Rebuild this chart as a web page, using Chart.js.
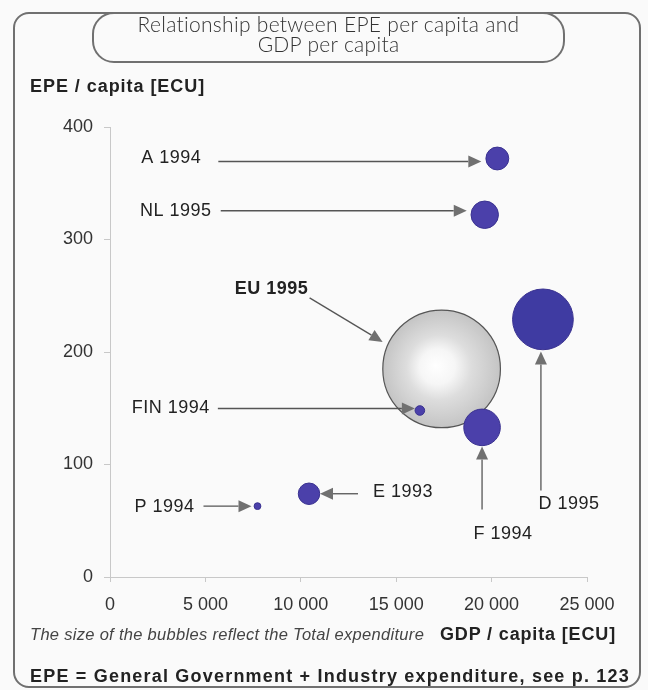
<!DOCTYPE html>
<html>
<head>
<meta charset="utf-8">
<script src="https://cdn.jsdelivr.net/npm/chart.js@4"></script>
<style>
  html, body { margin: 0; padding: 0; background: #fafafa; }
  #wrap { position: relative; width: 648px; height: 690px; overflow: hidden; font-family: "Liberation Sans", Arial, sans-serif; color: #222; }
  #myChart { position: absolute; left: 0; top: 0; }
  .frame { position: absolute; left: 13px; top: 12px; width: 628px; height: 676px; border: 2px solid #707070; border-radius: 16px; box-sizing: border-box; }
  .titlebox { position: absolute; left: 92px; top: 12px; width: 473px; height: 51px; border: 2px solid #707070; border-radius: 22px; box-sizing: border-box; background: #fafafa;
    font-family: Lato, "Open Sans", sans-serif; font-weight: 300; font-size: 21px; line-height: 20px; letter-spacing: 0.3px; text-align: center; color: #333; padding-top: 0px; }
  .t { position: absolute; white-space: nowrap; }
</style>
</head>
<body>
<div id="wrap">
  <canvas id="myChart" width="648" height="690"></canvas>
  <div class="frame"></div>
  <div class="titlebox">Relationship between EPE per capita and<br>GDP per capita</div>
  <div class="t" style="left:30px; top:76px; font-weight:bold; font-size:18px; letter-spacing:0.95px;">EPE / capita [ECU]</div>
  <div class="t" style="left:30px; top:625px; font-style:italic; font-size:16.5px; letter-spacing:0.3px; color:#444;">The size of the bubbles reflect the Total expenditure</div>
  <div class="t" style="left:440px; top:624px; font-weight:bold; font-size:18px; letter-spacing:0.85px;">GDP / capita [ECU]</div>
  <div class="t" style="left:30px; top:666px; font-weight:bold; font-size:18px; letter-spacing:1.2px;">EPE = General Government + Industry expenditure, see p. 123</div>
</div>
<script>
// Data
const countries = ["EU 1995", "A 1994", "NL 1995", "D 1995", "FIN 1994", "F 1994", "E 1993", "P 1994"];
const gdpPerCapita = [17380, 20300, 19640, 22690, 16240, 19500, 10430, 7730];
const epePerCapita = [185, 372, 322, 229, 148, 133, 74, 63];
// total expenditure (bubble area), estimated, relative units
const totalExpenditure = [90, 3.4, 4.9, 24, 0.6, 8.7, 3.0, 0.3];
const xTicks = [0, 5000, 10000, 15000, 20000, 25000];
const yTicks = [0, 100, 200, 300, 400];

// label / arrow placement relative to each bubble (pixels)
const notes = {
  "A 1994":   { label: [-326, 0],   from: [-279, 3],   to: [-16, 3] },
  "NL 1995":  { label: [-309, -4],  from: [-264, -4],  to: [-18, -4] },
  "EU 1995":  { label: [-170, -80], from: [-132, -71], to: [-59, -27], bold: true },
  "FIN 1994": { label: [-249, -2],  from: [-202, -2],  to: [-5, -2] },
  "F 1994":   { label: [21, 107],   from: [0, 82],     to: [0, 19] },
  "D 1995":   { label: [26, 185],   from: [-2, 171],   to: [-2, 32] },
  "E 1993":   { label: [94, -2],    from: [49, 0],     to: [11, 0] },
  "P 1994":   { label: [-93, 1],    from: [-54, 0],    to: [-6, 0] },
};

const points = countries.map((c, i) => ({
  x: gdpPerCapita[i],
  y: epePerCapita[i],
  r: Math.sqrt(totalExpenditure[i]) * 6.2,
}));

const fmt = (v) => String(v).replace(/\B(?=(\d{3})+(?!\d))/g, " ");

const annotations = {
  id: "annotations",
  afterDatasetsDraw(chart) {
    const c = chart.ctx;
    const meta = chart.getDatasetMeta(0);
    c.save();
    countries.forEach((name, i) => {
      const n = notes[name];
      const el = meta.data[i];
      const fx = el.x + n.from[0], fy = el.y + n.from[1];
      const tx = el.x + n.to[0], ty = el.y + n.to[1];
      const ang = Math.atan2(ty - fy, tx - fx);
      const len = 13, w = 6;
      const bx = tx - len * Math.cos(ang), by = ty - len * Math.sin(ang);
      c.strokeStyle = "#555";
      c.lineWidth = 1.3;
      c.beginPath();
      c.moveTo(fx, fy);
      c.lineTo(bx, by);
      c.stroke();
      c.fillStyle = "#707070";
      c.beginPath();
      c.moveTo(tx, ty);
      c.lineTo(bx - w * Math.sin(ang), by + w * Math.cos(ang));
      c.lineTo(bx + w * Math.sin(ang), by - w * Math.cos(ang));
      c.closePath();
      c.fill();
      c.fillStyle = "#222";
      c.font = (n.bold ? "bold " : "") + "18px 'Liberation Sans', Arial, sans-serif";
      c.letterSpacing = "0.5px";
      c.textAlign = "center";
      c.textBaseline = "middle";
      c.fillText(name, el.x + n.label[0], el.y + n.label[1]);
    });
    c.restore();
  },
};

function bubbleFill(context) {
  const i = context.dataIndex;
  if (i !== 0) return i === 3 ? "#3f3ba2" : "#4b40aa";
  const chart = context.chart;
  if (!chart.chartArea) return "#cccccc";
  const x = chart.scales.x.getPixelForValue(gdpPerCapita[0]);
  const y = chart.scales.y.getPixelForValue(epePerCapita[0]);
  const r = points[0].r;
  const g = chart.ctx.createRadialGradient(x - 6, y - 3, 0, x, y, r);
  g.addColorStop(0, "#ffffff");
  g.addColorStop(0.3, "#f6f6f6");
  g.addColorStop(0.55, "#dddddd");
  g.addColorStop(1, "#c4c4c4");
  return g;
}

const ctx = document.getElementById("myChart").getContext("2d");
const myChart = new Chart(ctx, {
  type: "bubble",
  data: {
    datasets: [
      {
        label: "EPE",
        data: points,
        backgroundColor: bubbleFill,
        borderColor: countries.map((c, i) => (i === 0 ? "#555" : "#3a3290")),
        borderWidth: countries.map((c, i) => (i === 0 ? 1.2 : 1)),
        clip: false,
      },
    ],
  },
  options: {
    responsive: false,
    animation: false,
    events: [],
    layout: { padding: { top: 127, right: 61, left: 0, bottom: 0 } },
    plugins: { legend: { display: false }, tooltip: { enabled: false } },
    scales: {
      x: {
        type: "linear",
        min: 0,
        max: 25000,
        afterBuildTicks: (s) => { s.ticks = xTicks.map((v) => ({ value: v })); },
        afterFit: (s) => { s.height = 113; },
        ticks: { callback: fmt, color: "#333", padding: 12, maxRotation: 0,
          font: { size: 18, family: "'Liberation Sans', Arial, sans-serif" } },
        grid: { drawOnChartArea: false, tickLength: 5, color: "#c8c8c8" },
        border: { color: "#c8c8c8" },
      },
      y: {
        min: 0,
        max: 400,
        afterBuildTicks: (s) => { s.ticks = yTicks.map((v) => ({ value: v })); },
        afterFit: (s) => { s.width = 110; },
        ticks: { color: "#333", padding: 11,
          font: { size: 18, family: "'Liberation Sans', Arial, sans-serif" } },
        grid: { drawOnChartArea: false, tickLength: 6, color: "#c8c8c8" },
        border: { color: "#c8c8c8" },
      },
    },
  },
  plugins: [annotations],
});
</script>
</body>
</html>
